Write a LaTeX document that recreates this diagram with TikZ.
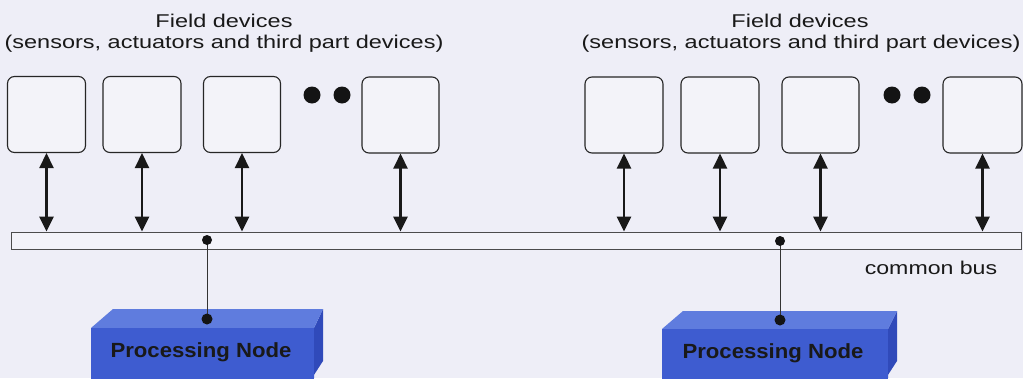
\documentclass[tikz,border=0pt]{standalone}
\usepackage{fontspec}
\newfontfamily\arialf{Liberation Sans}
\usetikzlibrary{arrows.meta}
\definecolor{bg}{RGB}{238,238,247}
\definecolor{boxfill}{RGB}{243,243,249}
\definecolor{txt}{RGB}{25,25,25}
\definecolor{pnfront}{RGB}{62,92,208}
\definecolor{pntop}{RGB}{95,124,222}
\definecolor{pnside}{RGB}{48,74,186}
\tikzset{
  devbox/.style={draw=black!85, line width=1.1pt, rounded corners=7pt, fill=boxfill,
    minimum height=76pt, inner sep=0pt},
  busbar/.style={draw=black!70, line width=0.8pt, fill=boxfill, minimum height=17pt,
    minimum width=1010pt, inner sep=0pt},
  link/.style={line width=2.6pt, black!90, {Triangle[width=14pt,length=15pt]}-{Triangle[width=14pt,length=15pt]}},
  wire/.style={line width=0.9pt, black!80},
  lbl/.style={inner sep=0pt, text=txt, font=\arialf\fontsize{18.5}{20}\selectfont},
  pnlbl/.style={inner sep=0pt, text=black!90, font=\arialf\bfseries\fontsize{20.5}{22}\selectfont},
  bigdot/.style={fill=black!92},
}
\begin{document}
\begin{tikzpicture}[x=1pt,y=-1pt]
\useasboundingbox (0,0) rectangle (1023,378);
\clip (0,0) rectangle (1023,378);
\fill[bg] (0,0) rectangle (1023,378);

% labels
\node[lbl, anchor=base] (fd1) at (224,27) {\scalebox{1.27}[1]{Field devices}};
\node[lbl, anchor=base] (fd1b) at (224,48) {\scalebox{1.27}[1]{(sensors, actuators and third part devices)}};
\node[lbl, anchor=base] (fd2) at (800,27) {\scalebox{1.27}[1]{Field devices}};
\node[lbl, anchor=base] (fd2b) at (801,48) {\scalebox{1.27}[1]{(sensors, actuators and third part devices)}};
\node[lbl, anchor=base] (cb) at (931,274) {\scalebox{1.25}[1]{common bus}};

% devices
\node[devbox, minimum width=78pt] (b1) at (46.5,114.5) {};
\node[devbox, minimum width=78pt] (b2) at (142,114.5) {};
\node[devbox, minimum width=77pt] (b3) at (242,114.5) {};
\node[devbox, minimum width=77pt] (b4) at (400.5,115) {};
\node[devbox, minimum width=78pt] (b5) at (624,115) {};
\node[devbox, minimum width=78pt] (b6) at (720,115) {};
\node[devbox, minimum width=77pt] (b7) at (820.5,115) {};
\node[devbox, minimum width=79pt] (b8) at (982.5,115) {};

% ellipsis dots
\fill[bigdot] (312,95) circle (8.5pt);
\fill[bigdot] (342,95) circle (8.5pt);
\fill[bigdot] (892,95) circle (8.5pt);
\fill[bigdot] (922,95) circle (8.5pt);

% bus
\node[busbar] (bus) at (516,240.5) {};

% links
\foreach \b in {b1,b2,b3,b4,b5,b6,b7,b8}{
  \draw[link] (\b.south) -- (\b.south |- bus.north);
}

% processing node 1
\fill[pnside] (314,328) -- (323,309) -- (323,361) -- (312,378) -- (314,378) -- cycle;
\fill[pntop] (91,328) -- (113,309) -- (323,309) -- (314,328) -- cycle;
\node[fill=pnfront, minimum width=223pt, minimum height=60pt, inner sep=0pt, anchor=north west] (pn1) at (91,328) {};
\node[pnlbl] (pn1l) at (201,352) {\scalebox{1.08}[1]{Processing Node}};

% processing node 2
\fill[pnside] (888,329) -- (897,311) -- (897,361) -- (886,378) -- (888,378) -- cycle;
\fill[pntop] (662,329) -- (683,311) -- (897,311) -- (888,329) -- cycle;
\node[fill=pnfront, minimum width=226pt, minimum height=60pt, inner sep=0pt, anchor=north west] (pn2) at (662,329) {};
\node[pnlbl] (pn2l) at (773,353) {\scalebox{1.08}[1]{Processing Node}};

% bus taps
\coordinate (t1) at (207,240);
\coordinate (p1) at (207,319);
\coordinate (t2) at (780,241);
\coordinate (p2) at (780,320);
\draw[wire] (t1) -- (p1);
\draw[wire] (t2) -- (p2);
\fill[bigdot] (t1) circle (5pt);
\fill[bigdot] (p1) circle (5.5pt);
\fill[bigdot] (t2) circle (5pt);
\fill[bigdot] (p2) circle (5.5pt);
\end{tikzpicture}
\end{document}
